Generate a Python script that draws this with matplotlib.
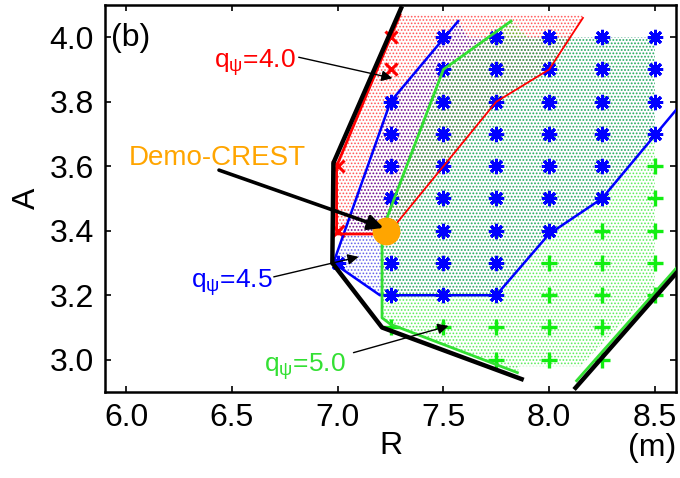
import matplotlib
matplotlib.use("Agg")
import matplotlib.pyplot as plt
import numpy as np

plt.rcParams['font.family'] = ['Liberation Sans', 'DejaVu Sans']
plt.rcParams['mathtext.fontset'] = 'custom'
plt.rcParams['mathtext.rm'] = 'Liberation Sans'
plt.rcParams['mathtext.it'] = 'Liberation Sans'
plt.rcParams['mathtext.bf'] = 'Liberation Sans:bold'
plt.rcParams['hatch.linewidth'] = 0.8

# ---- scan points (R [m], aspect ratio A) ----
blue_R = [7.0,
          7.25, 7.25, 7.25, 7.25, 7.25, 7.25, 7.25,
          7.5, 7.5, 7.5, 7.5, 7.5, 7.5, 7.5, 7.5, 7.5,
          7.75, 7.75, 7.75, 7.75, 7.75, 7.75, 7.75, 7.75, 7.75,
          8.0, 8.0, 8.0, 8.0, 8.0, 8.0, 8.0,
          8.25, 8.25, 8.25, 8.25, 8.25, 8.25,
          8.5, 8.5, 8.5, 8.5]
blue_A = [3.3,
          3.8, 3.7, 3.6, 3.5, 3.4, 3.3, 3.2,
          4.0, 3.9, 3.8, 3.7, 3.6, 3.5, 3.4, 3.3, 3.2,
          4.0, 3.9, 3.8, 3.7, 3.6, 3.5, 3.4, 3.3, 3.2,
          4.0, 3.9, 3.8, 3.7, 3.6, 3.5, 3.4,
          4.0, 3.9, 3.8, 3.7, 3.6, 3.5,
          4.0, 3.9, 3.8, 3.7]

green_R = [7.25, 7.5, 7.75, 7.75,
           8.0, 8.0, 8.0, 8.0,
           8.25, 8.25, 8.25, 8.25, 8.25,
           8.5, 8.5, 8.5, 8.5, 8.5]
green_A = [3.1, 3.1, 3.1, 3.0,
           3.3, 3.2, 3.1, 3.0,
           3.4, 3.3, 3.2, 3.1, 3.0,
           3.6, 3.5, 3.4, 3.3, 3.2]

red_R = [7.0, 7.0, 7.25, 7.25]
red_A = [3.6, 3.4, 4.0, 3.9]

# ---- q_psi boundaries ----
q40_R = [7.295, 6.995, 6.995, 7.22]
q40_A = [4.07, 3.60, 3.39, 3.39]
q40b_R = [7.25, 7.5, 7.75, 8.0, 8.16]
q40b_A = [3.40, 3.6, 3.8, 3.9, 4.06]

q45_R = [7.57, 7.25, 6.98, 7.2, 7.75, 8.0, 8.25, 8.62]
q45_A = [4.05, 3.8, 3.30, 3.2, 3.2, 3.39, 3.5, 3.79]

q50_R = [7.82, 7.5, 7.21, 7.21, 7.25, 7.85]
q50_A = [4.05, 3.9, 3.4, 3.13, 3.11, 2.96]
q50b_R = [8.13, 8.65]
q50b_A = [2.935, 3.32]

# ---- operational limit (black) ----
lim_R = [7.30, 6.98, 6.975, 7.21, 7.87]
lim_A = [4.09, 3.61, 3.30, 3.10, 2.94]
lim2_R = [8.125, 8.65]
lim2_A = [2.913, 3.305]

# ---- shaded regions ----
red_reg_R = [6.995, 6.995, 7.295, 8.17, 8.16, 8.0, 7.75, 7.5, 7.25, 7.22]
red_reg_A = [3.39, 3.60, 4.07, 4.07, 4.06, 3.9, 3.8, 3.6, 3.40, 3.39]
blue_reg_R = [6.98, 7.25, 7.57, 7.62, 8.5, 8.5, 8.25, 8.0, 7.75, 7.2]
blue_reg_A = [3.30, 3.8, 4.05, 4.0, 4.0, 3.7, 3.5, 3.39, 3.2, 3.2]
green_reg_R = [7.21, 7.21, 7.5, 7.82, 7.9, 8.5, 8.5, 8.15, 7.86, 7.85, 7.25]
green_reg_A = [3.13, 3.4, 3.9, 4.05, 4.0, 4.0, 3.22, 2.98, 2.98, 2.96, 3.11]

demo_R = [7.23]
demo_A = [3.40]

RED = '#ff0000'
BLUE = '#0000ff'
GREEN = '#33e033'
GREEN_M = '#11ee11'
ORANGE = '#ffa500'

fig = plt.figure(figsize=(6.8, 4.78), dpi=100)
ax = fig.add_axes([105 / 680, 1 - 392 / 478, (676 - 105) / 680, (392 - 5) / 478])

# dotted shading
ax.fill(red_reg_R, red_reg_A, facecolor='none', edgecolor=(1, 0, 0, 0.6),
        hatch='.....', lw=0, zorder=1)
ax.fill(blue_reg_R, blue_reg_A, facecolor='none', edgecolor=(0, 0, 0.85, 0.55),
        hatch='.....', lw=0, zorder=1.1)
ax.fill(green_reg_R, green_reg_A, facecolor='none', edgecolor=(0.15, 0.9, 0.15, 0.7),
        hatch='.....', lw=0, zorder=1.2)

# scan markers
ax.plot(blue_R, blue_A, ls='none', marker=(8, 2, 0), ms=11, mew=2.1,
        color=BLUE, zorder=3)
ax.plot(green_R, green_A, ls='none', marker='+', ms=12, mew=2.4,
        color=GREEN_M, zorder=3)
ax.plot(red_R, red_A, ls='none', marker='x', ms=9, mew=2.2,
        color=RED, zorder=3)

# boundaries
ax.plot(q45_R, q45_A, color=BLUE, lw=1.8, zorder=4)
ax.plot(q50_R, q50_A, color=GREEN, lw=2.0, zorder=4)
ax.plot(q50b_R, q50b_A, color=GREEN, lw=2.0, zorder=4)
ax.plot(q40b_R, q40b_A, color=RED, lw=1.3, zorder=4)
ax.plot(q40_R, q40_A, color=RED, lw=2.0, zorder=4)
ax.plot(lim_R, lim_A, color='k', lw=3.2, zorder=5)
ax.plot(lim2_R, lim2_A, color='k', lw=3.2, zorder=5)

# design point
ax.plot(demo_R, demo_A, ls='none', marker='o', ms=19, color=ORANGE,
        mec=ORANGE, zorder=6)

# labels and arrows
thin = dict(arrowstyle='-|>', color='k', lw=1.0, mutation_scale=16,
            shrinkA=0, shrinkB=0)
thick = dict(arrowstyle='-|>', color='k', lw=2.6, mutation_scale=22,
             shrinkA=0, shrinkB=0)

ax.text(6.415, 3.904, r'q$_\psi$=4.0', color=RED, fontsize=19, va='baseline')
ax.annotate('', xy=(7.259, 3.873), xytext=(6.816, 3.938), arrowprops=thin, zorder=7)

ax.text(6.014, 3.604, 'Demo-CREST', color=ORANGE, fontsize=20, va='baseline')
ax.annotate('', xy=(7.217, 3.409), xytext=(6.439, 3.588), arrowprops=thick, zorder=7)

ax.text(6.307, 3.224, r'q$_\psi$=4.5', color=BLUE, fontsize=19, va='baseline')
ax.annotate('', xy=(7.099, 3.319), xytext=(6.698, 3.257), arrowprops=thin, zorder=7)

ax.text(6.651, 2.963, r'q$_\psi$=5.0', color=GREEN, fontsize=19, va='baseline')
ax.annotate('', xy=(7.524, 3.105), xytext=(7.075, 3.022), arrowprops=thin, zorder=7)

ax.text(5.93, 3.972, '(b)', fontsize=23, va='baseline')

ax.set_xlim(5.9, 8.6)
ax.set_ylim(2.9, 4.1)
ax.set_xticks([6.0, 6.5, 7.0, 7.5, 8.0, 8.5])
ax.set_xticklabels(['6.0', '6.5', '7.0', '7.5', '8.0', '8.5'])
ax.set_yticks([3.0, 3.2, 3.4, 3.6, 3.8, 4.0])
ax.set_yticklabels(['3.0', '3.2', '3.4', '3.6', '3.8', '4.0'])
ax.tick_params(direction='in', length=4, width=1.2, labelsize=23, pad=8,
               top=True, right=True)
for s in ax.spines.values():
    s.set_linewidth(1.8)

ax.set_xlabel('R', fontsize=23)
ax.xaxis.set_label_coords(0.5, -0.1)
ax.set_ylabel('A', fontsize=23)
ax.yaxis.set_label_coords(-0.11, 0.5)
ax.text(1.0, -0.165, '(m)', transform=ax.transAxes, ha='right', va='baseline',
        fontsize=23)

fig.savefig('out.png', dpi=100)
